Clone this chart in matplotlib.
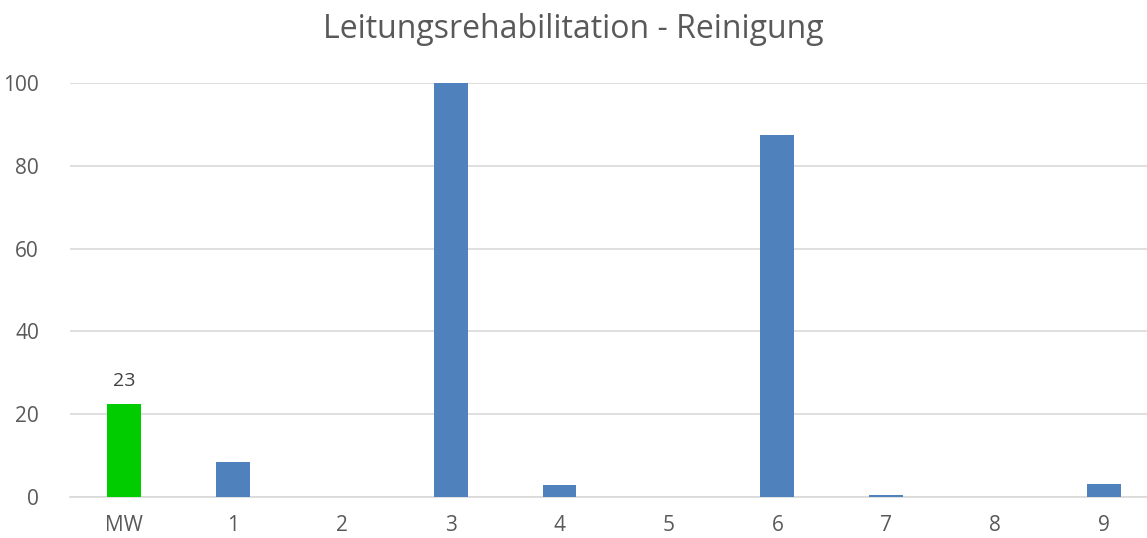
import matplotlib
matplotlib.use("Agg")
import matplotlib.pyplot as plt

categories = ["MW", "1", "2", "3", "4", "5", "6", "7", "8", "9"]
values = [22.4, 8.5, 0, 100, 2.8, 0, 87.5, 0.4, 0, 3.1]
mean_label = "23"

plt.rcParams['font.family'] = ['Open Sans', 'DejaVu Sans']
text_color = "#595959"

fig = plt.figure(figsize=(11.47, 5.38), dpi=100)
ax = fig.add_axes([69.5 / 1147, 41 / 538, 1089 / 1147, 414 / 538])

colors = ["#00CC00"] + ["#4F81BD"] * (len(categories) - 1)
x = range(len(categories))
ax.bar(x, values, width=0.31, color=colors, zorder=3)
ax.text(0, values[0] + 3.5, mean_label, ha="center", va="bottom",
        fontsize=14, color="#404040")

ax.set_xlim(-0.5, len(categories) - 0.5)
ax.set_ylim(0, 100)
ax.set_yticks([0, 20, 40, 60, 80, 100])
ax.set_xticks(list(x))
ax.set_xticklabels(categories)
ax.yaxis.grid(True, color="#D9D9D9", linewidth=1.2, zorder=0)
ax.set_axisbelow(True)
for s in ["top", "right", "left"]:
    ax.spines[s].set_visible(False)
ax.spines["bottom"].set_color("#D9D9D9")
ax.spines["bottom"].set_linewidth(1.2)
ax.tick_params(axis="both", length=0, labelsize=15, colors=text_color)
ax.tick_params(axis="x", pad=13)
ax.tick_params(axis="y", pad=22)

fig.suptitle("Leitungsrehabilitation - Reinigung", y=0.975, fontsize=23,
             color=text_color)

fig.savefig("out.png", dpi=100)
